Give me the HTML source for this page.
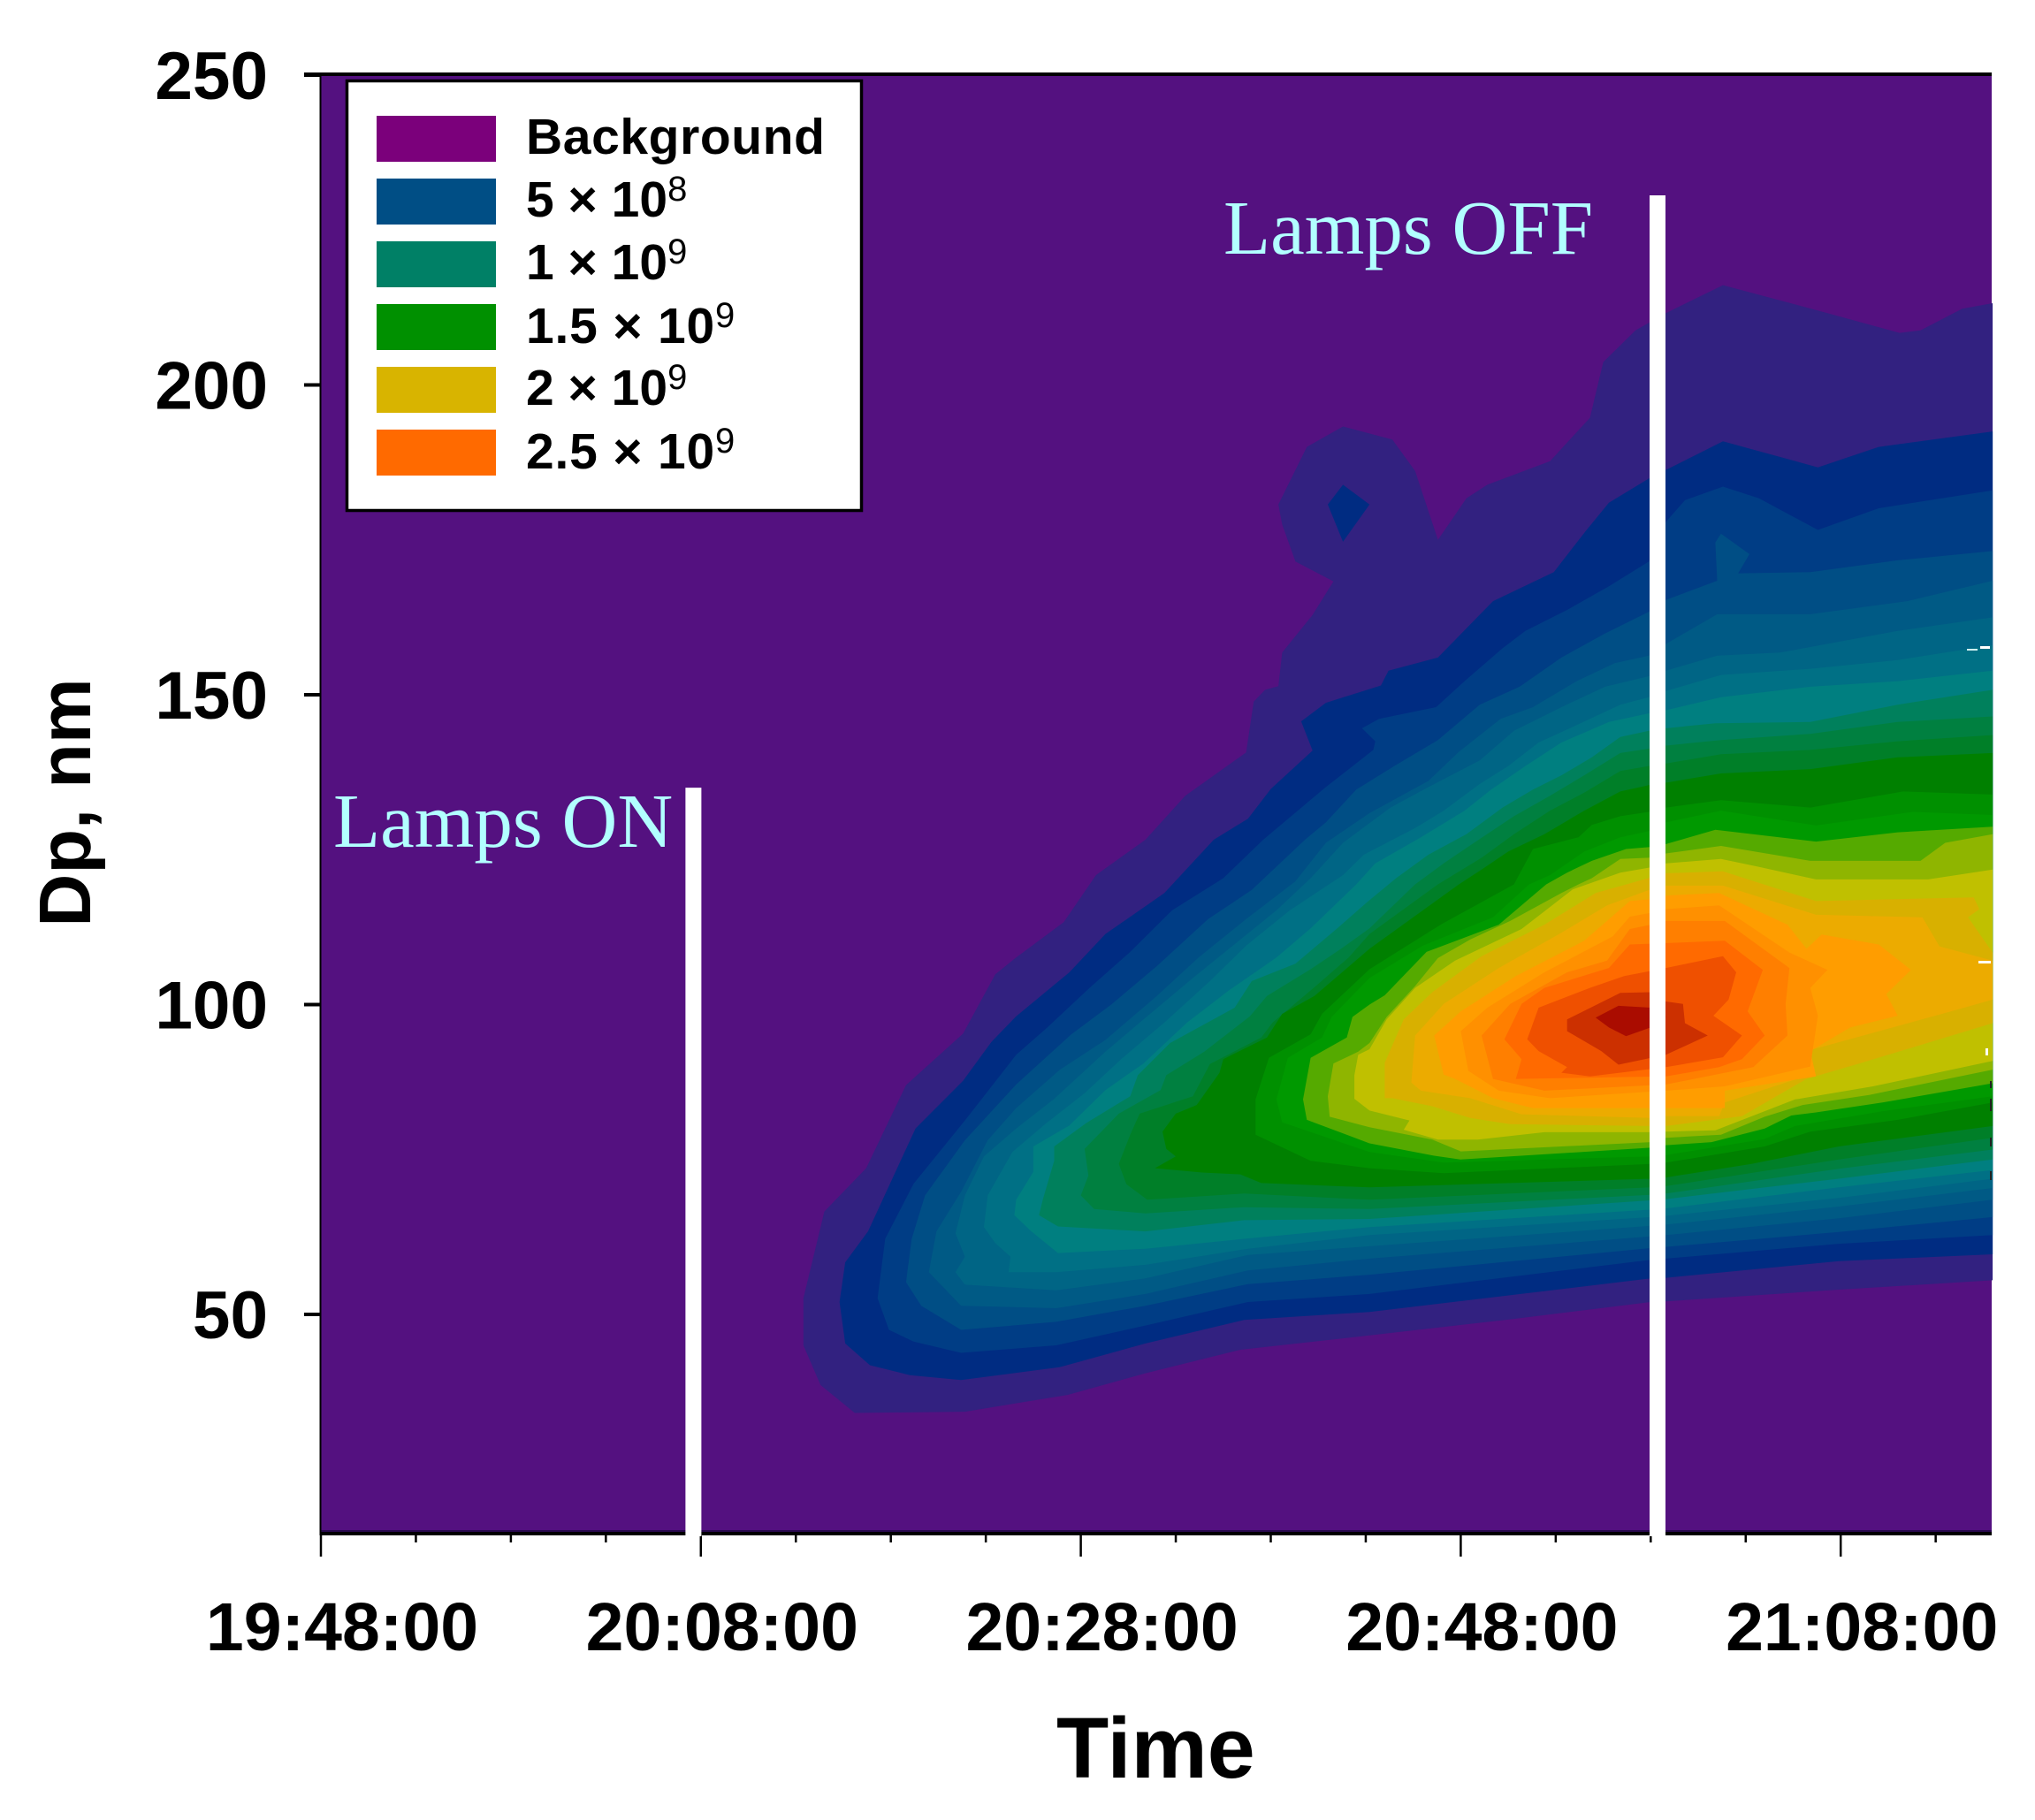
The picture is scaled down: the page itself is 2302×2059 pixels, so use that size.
<!DOCTYPE html>
<html lang="en">
<head>
<meta charset="utf-8">
<title>Dp vs Time contour</title>
<style>
html,body{margin:0;padding:0;background:#fff;}
svg{display:block;}
text{font-family:"Liberation Sans",sans-serif;font-weight:bold;fill:#000;}
.lamp{font-family:"Liberation Serif",serif;font-weight:normal;fill:#b2ffff;font-size:87px;}
.leg{font-size:57px;}
</style>
</head>
<body>
<svg id="chart" xmlns="http://www.w3.org/2000/svg" width="2302" height="2059" viewBox="0 0 2302 2059">
  <rect x="363" y="85" width="1890" height="1649" fill="#541180"/>
  <g id="bands"></g>
  <g>
    <rect x="2225" y="734" width="12" height="2" fill="#cfeff0"/>
    <rect x="2240" y="731" width="11" height="3" fill="#fff"/>
    <rect x="2238" y="1087" width="14" height="3" fill="#fff"/>
    <rect x="2246" y="1186" width="3" height="8" fill="#fff"/>
    <rect x="2251" y="1223" width="2" height="8" fill="#222"/>
    <rect x="2251" y="1243" width="2" height="14" fill="#222"/>
    <rect x="2251" y="1287" width="2" height="10" fill="#222"/>
    <rect x="2251" y="1325" width="2" height="10" fill="#222"/>
  </g>
  <rect x="363" y="1731" width="1890" height="3" fill="#2a0a50"/>
  <rect x="363" y="1733" width="1890" height="4" fill="#000"/>
  <rect x="344" y="82" width="1909" height="4" fill="#000"/>
  <rect x="361.5" y="82" width="2" height="1655" fill="#000"/>
  <g id="axes"></g>
  <g id="lamps"></g>
  <text class="lamp" x="377" y="958">Lamps ON</text>
  <text class="lamp" x="1384" y="287">Lamps OFF</text>

  <g>
    <rect x="392.5" y="91.5" width="582" height="486" fill="#fff" stroke="#000" stroke-width="3.5"/>
    <rect x="426" y="131" width="135" height="52" fill="#7b007b"/>
    <rect x="426" y="202" width="135" height="52" fill="#004e85"/>
    <rect x="426" y="273" width="135" height="52" fill="#008066"/>
    <rect x="426" y="344" width="135" height="52" fill="#009000"/>
    <rect x="426" y="415" width="135" height="52" fill="#d8b400"/>
    <rect x="426" y="486" width="135" height="52" fill="#ff6a00"/>
    <text class="leg" x="595" y="174" letter-spacing="0.6">Background</text>
    <text class="leg" x="595" y="245">5 × 10<tspan dy="-18" font-size="40" font-weight="normal">8</tspan></text>
    <text class="leg" x="595" y="316">1 × 10<tspan dy="-18" font-size="40" font-weight="normal">9</tspan></text>
    <text class="leg" x="595" y="388" letter-spacing="0.8">1.5 × 10<tspan dy="-18" font-size="40" font-weight="normal">9</tspan></text>
    <text class="leg" x="595" y="458">2 × 10<tspan dy="-18" font-size="40" font-weight="normal">9</tspan></text>
    <text class="leg" x="595" y="530" letter-spacing="0.8">2.5 × 10<tspan dy="-18" font-size="40" font-weight="normal">9</tspan></text>
  </g>

  <text font-size="83" text-anchor="middle" transform="translate(102 908) rotate(-90)">Dp, nm</text>
  <text font-size="97" x="1195" y="2011">Time</text>
</svg>
<script>
// Axis tick values
const dpTicks = [50, 100, 150, 200, 250];
const timeMajorMinutes = [0, 20, 40, 60, 80];
const timeMajorLabels = ["19:48:00", "20:08:00", "20:28:00", "20:48:00", "21:08:00"];
const timeMinorMinutes = [5, 10, 15, 25, 30, 35, 45, 50, 55, 65, 70, 75, 85];

// Lamp events: minutes after 19:48:00 and marker top in nm
const lampMinutes = [19.19, 69.94];
const lampTopDp = [135, 230.6];

// Contour band outlines: [minutes after 19:48:00, Dp in nm]
const contourLevel01 = [[25.4,45],[25.4,52.6],[26.5,66.6],[28.7,73.6],[30.8,87],[33.8,95.3],[35.5,104.9],[36.6,107.6],[39.1,113.3],[40.8,120.9],[43.4,126.6],[45.5,133.7],[48.7,140.7],[49.1,148.9],[49.7,150.8],[50.4,151.4],[50.6,156.8],[52.2,162.9],[53.3,168.3],[51.3,171.5],[50.6,177.5],[50.4,180.7],[51.9,190],[53.8,193.3],[56.4,191.2],[57.6,186.1],[58.8,175],[60.3,181.7],[61.4,183.9],[64.7,187.7],[66.8,194.7],[67.5,203.7],[69.2,208.8],[70.8,211.6],[73.8,216.1],[79.3,211.6],[83.1,208.4],[84.2,208.8],[86.4,212.3],[88,213.2],[88,55.5],[79.9,54],[70.8,52.1],[70,52],[62.6,49.2],[55.2,46.6],[48.4,44.3],[43.4,40.5],[39.3,37],[33.9,34.3],[28.1,34.1],[26.3,38.6]];
const contourLevel02Spot = [[53.8,183.9],[55.2,180.7],[53.8,174.7],[53,180.7]];
const contourLevel02 = [[27.3,52],[27.6,58.4],[28.8,63.4],[31.3,80],[33.8,87.7],[35.3,94],[36.6,98.1],[39.4,105.2],[41.3,111.4],[44.4,118],[47,126.6],[48.8,130],[50,134.8],[52.2,141],[51.6,145.7],[52.9,148.7],[55.8,151.5],[56.2,153.9],[58.8,156],[61.7,165.1],[64.9,169.8],[66.6,176.5],[67.8,181],[69.9,184.9],[73.8,190.9],[78.8,186.7],[82,190],[88,192.5],[88,59.7],[79.9,58.6],[70.8,55.9],[70,55.8],[55.2,50.4],[48.6,49.1],[43.4,45.3],[38.9,41.5],[33.7,39.4],[31,40.2],[28.9,41.8],[27.6,45.3]];
const contourLevel03 = [[29.3,52.6],[29.7,62.2],[31.2,71.1],[33.9,81.3],[36.6,91.9],[38.2,96.2],[40.5,102.8],[42.6,108.5],[44.8,115.2],[47.5,120.4],[49.6,126.6],[52.9,135.1],[55.4,141.1],[55.5,142.5],[54.8,144.6],[55.7,146.1],[58.7,148],[60.2,152.2],[62.2,157.5],[63.4,160.3],[65.6,163.7],[67.8,167.5],[69.9,171.5],[70.8,177.9],[71.8,181.4],[73.8,183.6],[75.7,181.7],[78.8,176.6],[82,180.1],[88,183],[88,62.8],[79.9,61.4],[70.8,59],[70,58.8],[55.2,53.3],[48.8,52],[43.4,48.2],[38.7,45],[33.7,43.8],[31.2,45.6],[29.9,47.5]];
const contourLevel04 = [[30.8,55.2],[31.1,62.2],[31.8,69.2],[33.9,78.1],[36.6,87.1],[39.5,95.2],[41.6,100],[44,106.2],[46.7,113.8],[49,118.5],[51.8,126.6],[52.9,129.4],[54.5,134.7],[56.5,138.5],[58.8,142.7],[61,148.4],[63.1,151.3],[65.3,156],[67.6,159.9],[69.9,163.4],[70.8,165.3],[73.5,168.4],[73.4,174.6],[73.7,176],[75.2,172.7],[74.6,169.6],[78.4,169.8],[83,171.7],[88,173.2],[88,65.7],[79.9,63.3],[70.8,60.9],[70,60.7],[55.2,56.4],[48.8,54.9],[43.4,51.4],[38.7,48.8],[33.7,47.5],[31.6,51.4]];
const contourLevel05 = [[32,56.8],[32.4,63.4],[33.7,69.8],[35.1,78.1],[36.6,83.3],[38.9,89.5],[41.3,94.3],[44,101.4],[46.2,107.6],[48.7,113.8],[51.3,119.9],[52.9,126.1],[55.2,130.9],[58.3,136.1],[59.9,140.8],[62.1,146.1],[63.8,148],[66.1,152.2],[68.1,155.1],[69.9,156.3],[70.8,158.2],[73.5,163],[78.4,163],[83.5,165.1],[88,168.4],[88,68.5],[79.9,65.5],[70.8,62.8],[70,62.6],[55.2,59],[48.8,57.1],[43.4,53.3],[38.7,51],[33.7,51.4]];
const contourLevel06 = [[33.9,54.8],[33.4,56.8],[33.9,59.3],[33.4,63.1],[33.9,69.2],[34.9,75.5],[36.6,80],[38.6,84.8],[41.3,92.4],[43.3,97.6],[45.9,104.3],[47.8,109],[50.3,115.2],[52.1,120.4],[53.8,126.1],[56.3,131.8],[58.3,135.1],[61,139.4],[62.8,144.2],[65.3,148],[67.6,151.3],[69.9,153],[70.8,153.9],[73.5,156.3],[76.8,156.8],[83,160.3],[88,162.5],[88,70.4],[79.9,67.4],[70.8,64.5],[70,64.3],[55.2,61],[48.8,59.6],[43.4,55.8],[38.7,53.9]];
const contourLevel07 = [[36.2,56.8],[36.3,59.3],[35.5,61.5],[34.9,64.1],[35.1,69.2],[36.4,76.2],[38.2,80.9],[40.2,85.7],[42.2,91.4],[44.4,97.1],[46.8,103.8],[48.7,109.5],[51,115.2],[53.8,120.9],[54.9,124.2],[57.6,128.5],[59.1,131.3],[61,135.6],[62.5,138.5],[64.1,142.3],[66.1,145.1],[68.4,148.4],[69.9,149.6],[70.8,150.6],[73.7,153.2],[78.4,154.2],[83,155.6],[88,158],[88,71.9],[79.9,68.8],[70.8,65.9],[70,65.7],[55.2,62.8],[48.8,60.6],[43.4,58],[38.7,56.8]];
const contourLevel08 = [[38.8,59.9],[37.4,63.4],[36.5,66],[36.6,68.5],[37.5,73],[37.5,77.1],[39.4,80.5],[41.3,86.2],[43.3,90.5],[45.6,97.1],[47.8,102.3],[50.3,107.6],[52.1,112.3],[54.5,119.4],[55.5,122.8],[57.9,127],[60.2,131.3],[61.6,134.7],[63.4,138.5],[65.3,142.3],[67.8,145.6],[69.9,147],[70.8,147.5],[73.7,149.6],[78.4,151.3],[83,152.2],[88,153.9],[88,73.3],[79.9,70.5],[70.8,67.1],[70,66.9],[55.2,64.1],[48.6,62.2],[43.4,60.6]];
const contourLevel09 = [[38.8,64.2],[37.8,66],[38,68.5],[38.6,74.8],[38.6,77.1],[40.3,80.9],[42.6,85.2],[43,88.6],[44.7,93.8],[48.1,99.5],[49,103.8],[51.3,106.6],[53.5,112.3],[55.1,116.6],[56.6,120.4],[58.3,124.2],[60.3,127.5],[62.2,131.8],[63.8,134.7],[65.3,137],[66.9,139.9],[68.4,143.2],[69.9,144.2],[70.8,144.6],[73.4,145.4],[78.4,145.6],[83,148.4],[88,150.8],[88,75],[79.9,71.9],[70.8,68.6],[70,68.4],[55.2,65.4],[48.6,65.2],[43.4,63.4]];
const contourLevel09b = [[40,69.2],[40.4,72.4],[40.2,76.7],[42,82.4],[44.2,86.2],[44.5,88.6],[46.5,92.4],[48.9,98.1],[49.8,101.4],[52.1,105.7],[53.7,109],[55.2,112.3],[57.6,119.4],[59.1,122.8],[60.7,126.1],[62.8,130.4],[64.7,133.7],[66.5,137],[68.4,140.6],[69.9,141.3],[70.8,141.8],[73.7,142.7],[78.4,143.7],[83,145.6],[88,146.5],[88,76.6],[79.9,73.5],[70.8,69.5],[70,69.3],[55.2,67],[48.6,67.3],[43.4,66.3],[40.7,67]];
const contourLevel10 = [[42.4,71],[42,74.3],[42.6,79],[43.1,82.4],[45.9,85.2],[46.8,90.4],[49.5,94.7],[50.1,97.1],[52.3,102.8],[54.1,107.6],[55.2,111.4],[58.8,119.4],[61.1,123.7],[62.8,127.5],[64.7,131.3],[66.5,134.2],[68.4,137.7],[69.9,138.5],[70.8,138.9],[73.7,140.4],[78.4,141.1],[83,142.5],[88,143.5],[88,78.5],[79.9,75],[70.8,70.7],[70,70.5],[55.2,68.5],[48.6,69.5],[43.5,68.5]];
const contourLevel11 = [[43.9,73.6],[45,75.5],[44.5,76.7],[44.3,79.5],[45,82.4],[46.1,83.8],[47.3,89],[47.5,91.2],[49.8,94.7],[50.6,98.5],[52.3,101.4],[55.2,109],[59.9,119.4],[61.1,121.8],[62.5,124.7],[64.4,127.5],[66.5,131.3],[68.4,134.4],[69.9,135.4],[70.8,135.8],[73.7,137.3],[78.4,138],[83,139.9],[88,140.6],[88,80.4],[79.9,77.1],[75.3,74.3],[70.8,72.1],[70,71.9],[55.2,70.5],[49.5,71.2],[48.4,72.6],[46.4,72.9]];
const contourLevel12 = [[49.2,79],[49.2,84.7],[49.9,91.4],[52.1,95.2],[52.7,98.5],[55.2,105.7],[59,113],[62.8,119.4],[63.8,125.1],[66.2,127],[66.9,129],[68.4,130.4],[69.9,131.1],[70.8,131.8],[73.7,133],[78.4,131.8],[83.3,134.4],[88,133.9],[88,84.2],[83,81.4],[78.4,79.5],[76,77.1],[70.8,74.5],[70,74.3],[59.1,72.8],[55.2,73.6],[52.1,74.8]];
const contourLevel13 = [[50.6,81],[50.3,84.7],[50.9,91.4],[52.7,94.7],[53.2,98],[55.2,104.3],[58,109.5],[61.7,114.1],[63.6,119.4],[64.7,120.9],[66.5,124.7],[68.4,127],[69.9,128],[70.8,129.4],[73.7,131.3],[78.7,128.9],[83.8,131.1],[88,130.6],[88,85.2],[82.2,82.8],[77.6,80.4],[76,78.3],[70.8,75.7],[70,75.5],[59.1,74.5],[55.2,76.2]];
const contourLevel14 = [[51.9,81.4],[51.7,84.7],[52.1,91.4],[54,94.7],[54.3,98],[55.2,100],[56,101.5],[58.2,108.5],[62,112.9],[64.5,119.4],[65.6,121.3],[66.9,123.2],[68.7,125.1],[69.9,125.4],[70.8,125.9],[73.4,128.2],[78.7,126.3],[83,127.8],[88,128.7],[88,87.3],[82.2,84.2],[78.7,82.6],[77.4,82.1],[76,80],[73.2,77.8],[70.8,77.3],[70,76.9],[60,75],[58.6,75.6],[55.2,77.6]];
const contourLevel15 = [[53.1,81.9],[53,85.2],[53.3,90.5],[54.6,92.4],[55.2,93.8],[56.1,98],[57.6,103],[58.8,107.5],[60.5,110.5],[62.6,113.5],[65.3,118],[66.2,119.4],[66.9,120.4],[68.4,123.5],[69.9,123.7],[70.8,124.4],[73.7,125.6],[78.4,123.2],[84.2,123.2],[85.5,126.1],[88,127.5],[88,89.5],[81.5,85.4],[78,83.8],[76,81.9],[73.7,79],[70.8,78.5],[70,77.8],[60,76.3],[58.5,78.2],[55.2,80.2]];
const contourLevel16 = [[54.4,84.8],[54.4,88.6],[54.6,91.9],[55.2,92.8],[56.1,97.6],[57.6,102.7],[59.7,107.1],[63.2,112.2],[65.9,118.6],[68.4,121.3],[69.9,122.1],[70.8,122.8],[73.7,123.5],[75.6,122.3],[78.7,120.2],[84.6,120.2],[88,121.8],[88,90.9],[81.7,86.8],[77.6,84.7],[76,82.8],[73.4,79.7],[70.8,79.5],[70,79.4],[64.4,79.4],[60.9,78.2],[58.8,78.2],[57,79.8],[57.3,81.3],[55.2,82.9]];
const contourLevel17 = [[56,84.9],[56,90.6],[57,97.6],[58.5,102],[61.1,107.8],[64.4,112.9],[67.1,118],[70,120.5],[70.8,121.2],[73.8,121.5],[78.7,116.7],[87,117.3],[87.3,115.4],[86.7,114.1],[88,108.4],[88,97],[85.2,94.4],[81.1,90.6],[78.2,88],[74.8,82],[70.8,80.4],[70,80.4],[62.6,80.7],[60.5,81.7],[58.5,83.6],[56.4,84.9]];
const contourLevel18 = [[57.4,87.4],[57.6,95],[59.1,100.1],[62,105.9],[65.3,111.6],[67.7,116],[70,118.6],[70.8,119.2],[73.8,119.2],[78.7,114.5],[84.3,114.1],[85.2,109.4],[88,107.1],[88,100.8],[85.8,98.9],[78.2,92.5],[78.4,88.7],[73.9,84.2],[73.6,82],[70.8,82],[70,81.7],[63.2,82.3],[60.5,84.9],[57.9,86.1]];
const contourLevel19 = [[58.6,95],[60,98.9],[62.9,104.6],[66.5,110.3],[68.9,116.7],[70,117],[70.8,117.6],[73.6,118],[77.2,112.9],[78.2,109],[79,111.3],[82,109.7],[83.7,105.6],[82.4,101.7],[83,98.2],[80.5,96.3],[78.4,92.5],[78.7,88.4],[73.9,86.1],[73.9,83.3],[70.8,83.3],[63.8,83.3],[61.7,84.9],[59.7,88],[59.1,88.7]];
const contourLevel20 = [[60,95.7],[61.4,99.5],[64.4,105.2],[68,111],[68.9,114.2],[70,114.8],[70.8,115.4],[73.6,116],[77.3,108.4],[79.3,105.6],[78.4,102.7],[78.8,98.2],[78.4,90],[73.9,86.8],[70.8,86.1],[64.7,84.9],[62,86.1],[60.4,89.3]];
const contourLevel21 = [[61.1,95],[62.6,100.1],[65.6,105.2],[67.7,107.1],[68.9,112.2],[70,112.9],[70.8,113.5],[73.9,113.5],[77.3,105.9],[77.1,100.1],[77.2,95],[75.4,89.9],[70.8,87.1],[64.4,86.1],[61.7,88]];
const contourLevel22 = [[62.3,94.4],[63.2,100.1],[64.4,102.7],[67.8,105.9],[68.9,109.7],[73.9,110.3],[75.9,105.6],[75.1,98.9],[76,95],[74.8,91.2],[73.6,89.9],[70.8,88.4],[62.9,88],[63.2,91.2]];
const contourLevel23 = [[63.5,94.4],[64.1,99.5],[66.8,102.7],[68.6,104.6],[70.8,105.9],[73.8,107.8],[74.5,105.2],[74.1,100.8],[73.3,98.2],[74.8,95],[73.8,91.5],[70.8,89.9],[66.8,88.4],[65.3,89],[65.6,89.9],[64.1,92.5]];
const contourLevel24 = [[65.6,97.6],[68.4,101.9],[70,102],[70.8,100.5],[71.7,100.1],[71.8,97],[73,95],[70.8,91.9],[68.3,90.3],[67.4,92.5],[65.6,95.7]];
const contourLevel25 = [[67.1,97.9],[68.3,99.8],[70,99.5],[70.8,98],[70,96.3],[68.7,94.9],[67.8,96.3]];

const contourLevels = [contourLevel01, contourLevel02, contourLevel02Spot, contourLevel03, contourLevel04, contourLevel05, contourLevel06, contourLevel07, contourLevel08, contourLevel09, contourLevel09b, contourLevel10, contourLevel11, contourLevel12, contourLevel13, contourLevel14, contourLevel15, contourLevel16, contourLevel17, contourLevel18, contourLevel19, contourLevel20, contourLevel21, contourLevel22, contourLevel23, contourLevel24, contourLevel25];
const contourFills = ["#322180", "#002c82", "#002c82", "#003d85", "#004e85", "#005a85", "#006585", "#007085", "#007f80", "#00805c", "#008040", "#007f28", "#008000", "#009000", "#009900", "#55aa00", "#8fb500", "#c0c000", "#d8b000", "#ecab00", "#ff9d00", "#ff9000", "#ff7f00", "#ff6a00", "#ef5000", "#cc3000", "#aa0c00"];

const SVG_NS = "http://www.w3.org/2000/svg";
const xScale = function (minutes) { return 363 + minutes * 21.49; };
const yScale = function (dp) { return 85 + (250 - dp) * 7.01; };

const bandsGroup = document.getElementById("bands");
contourLevels.forEach(function (outline, i) {
  const poly = document.createElementNS(SVG_NS, "polygon");
  poly.setAttribute("points", outline.map(function (p) { return xScale(p[0]).toFixed(1) + "," + yScale(p[1]).toFixed(1); }).join(" "));
  poly.setAttribute("fill", contourFills[i]);
  
  
  bandsGroup.appendChild(poly);
});

const axesGroup = document.getElementById("axes");
dpTicks.forEach(function (value) {
  const tick = document.createElementNS(SVG_NS, "line");
  tick.setAttribute("x1", 344);
  tick.setAttribute("x2", 363);
  tick.setAttribute("y1", yScale(value));
  tick.setAttribute("y2", yScale(value));
  tick.setAttribute("stroke", "#000");
  tick.setAttribute("stroke-width", 4);
  
  
  axesGroup.appendChild(tick);
  const label = document.createElementNS(SVG_NS, "text");
  label.setAttribute("x", 303);
  label.setAttribute("y", yScale(value) + 27);
  label.setAttribute("font-size", 76.5);
  label.setAttribute("text-anchor", "end");
  
  
  label.textContent = value;
  axesGroup.appendChild(label);
});
timeMajorMinutes.forEach(function (minutes, i) {
  const tick = document.createElementNS(SVG_NS, "line");
  tick.setAttribute("x1", xScale(minutes));
  tick.setAttribute("x2", xScale(minutes));
  tick.setAttribute("y1", 1736);
  tick.setAttribute("y2", 1761);
  tick.setAttribute("stroke", "#000");
  tick.setAttribute("stroke-width", 2.5);
  
  
  axesGroup.appendChild(tick);
  const label = document.createElementNS(SVG_NS, "text");
  label.setAttribute("x", xScale(minutes) + 24);
  label.setAttribute("y", 1867);
  label.setAttribute("font-size", 77);
  label.setAttribute("text-anchor", "middle");
  
  
  label.textContent = timeMajorLabels[i];
  axesGroup.appendChild(label);
});
timeMinorMinutes.forEach(function (minutes) {
  const tick = document.createElementNS(SVG_NS, "line");
  tick.setAttribute("x1", xScale(minutes));
  tick.setAttribute("x2", xScale(minutes));
  tick.setAttribute("y1", 1736);
  tick.setAttribute("y2", 1745);
  tick.setAttribute("stroke", "#000");
  tick.setAttribute("stroke-width", 2.5);
  
  
  axesGroup.appendChild(tick);
});

const lampsGroup = document.getElementById("lamps");
lampMinutes.forEach(function (minutes, i) {
  const bar = document.createElementNS(SVG_NS, "rect");
  bar.setAttribute("x", xScale(minutes));
  bar.setAttribute("y", yScale(lampTopDp[i]));
  bar.setAttribute("width", 18);
  bar.setAttribute("height", 1738 - yScale(lampTopDp[i]));
  bar.setAttribute("fill", "#fff");
  
  
  lampsGroup.appendChild(bar);
});
</script>
</body>
</html>
